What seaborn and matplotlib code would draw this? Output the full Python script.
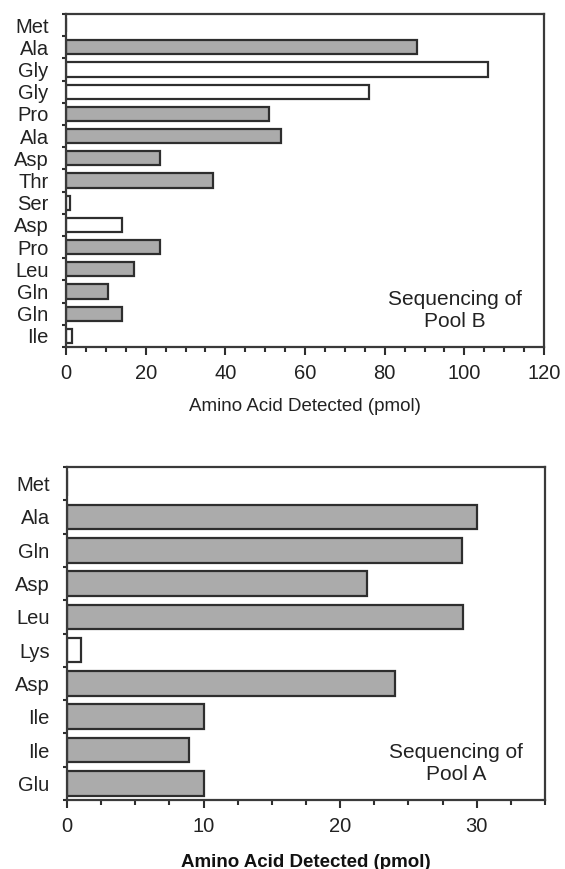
import numpy as np
import pandas as pd
import matplotlib
matplotlib.use("Agg")
import matplotlib.pyplot as plt
from matplotlib.ticker import MultipleLocator, FixedLocator
import seaborn as sns

# ---- data ----
top_residues = ['Met', 'Ala', 'Gly', 'Gly', 'Pro', 'Ala', 'Asp', 'Thr',
                'Ser', 'Asp', 'Pro', 'Leu', 'Gln', 'Gln', 'Ile']
top_pmol = [0, 88, 106, 76, 51, 54, 23.5, 37, 1, 14, 23.5, 17, 10.5, 14, 1.5]
top_fill = ['open', 'shaded', 'open', 'open', 'shaded', 'shaded', 'shaded', 'shaded',
            'open', 'open', 'shaded', 'shaded', 'shaded', 'shaded', 'open']

bottom_residues = ['Met', 'Ala', 'Gln', 'Asp', 'Leu', 'Lys', 'Asp', 'Ile', 'Ile', 'Glu']
bottom_pmol = [0, 30, 28.9, 22, 29, 1, 24, 10, 8.9, 10]
bottom_fill = ['open', 'shaded', 'shaded', 'shaded', 'shaded', 'open',
               'shaded', 'shaded', 'shaded', 'shaded']

top_xticks = [0, 20, 40, 60, 80, 100, 120]
bottom_xticks = [0, 10, 20, 30]

sns.set_theme(style='white')
plt.rcParams['font.family'] = ['Liberation Sans', 'DejaVu Sans']

TXT = '#222222'
EDGE = '#2e2e2e'
palette = {'shaded': '#ababab', 'open': '#ffffff'}

fig = plt.figure(figsize=(5.65, 8.69), dpi=100)
ax1 = fig.add_axes([66 / 565, 1 - 347 / 869, 478 / 565, 333 / 869])
ax2 = fig.add_axes([67 / 565, 1 - 800 / 869, 478 / 565, 333 / 869])


def panel(ax, residues, values, fills, width, xmax, xticks, minor, label, pool, bold, labelpad):
    n = len(residues)
    df = pd.DataFrame({'cycle': [str(i) for i in range(n)],
                       'pmol': values, 'fill': fills})
    sns.barplot(data=df, x='pmol', y='cycle', hue='fill', order=df['cycle'].tolist(),
                palette=palette, dodge=False, width=width, orient='h',
                edgecolor=EDGE, linewidth=1.6, legend=False, ax=ax, saturation=1)
    ax.set_xlim(0, xmax)
    ax.set_ylim(n - 0.5, -0.5)
    ax.set_yticks(range(n))
    ax.set_yticklabels(residues, fontsize=14.5, color=TXT)
    ax.yaxis.set_minor_locator(FixedLocator(np.arange(-0.5, n, 1.0)))
    ax.tick_params(axis='y', which='major', length=0, pad=12.5)
    ax.tick_params(axis='y', which='minor', length=3.2, width=1.5, color=EDGE, left=True)
    ax.set_xticks(xticks)
    ax.set_xticklabels([str(t) for t in xticks], fontsize=14.5, color=TXT)
    ax.xaxis.set_minor_locator(MultipleLocator(minor))
    ax.tick_params(axis='x', which='major', length=6, width=1.5, color=EDGE,
                   bottom=True, pad=6)
    ax.tick_params(axis='x', which='minor', length=3.8, width=1.5, color=EDGE, bottom=True)
    ax.set_ylabel('')
    ax.set_xlabel(label, fontsize=13.5, color='#111111' if bold else TXT,
                  fontweight='bold' if bold else 'normal', labelpad=labelpad)
    for s in ax.spines.values():
        s.set_visible(True)
        s.set_linewidth(1.6)
        s.set_color('#3a3a3a')
    ax.text(0.814, 0.11, 'Sequencing of\n' + pool, transform=ax.transAxes,
            ha='center', va='center', fontsize=15, color=TXT, linespacing=1.2)


panel(ax1, top_residues, top_pmol, top_fill, 0.64, 120, top_xticks, 5,
      'Amino Acid Detected (pmol)', 'Pool B', False, 11)
panel(ax2, bottom_residues, bottom_pmol, bottom_fill, 0.74, 35, bottom_xticks, 2.5,
      'Amino Acid Detected (pmol)', 'Pool A', True, 13)

fig.savefig('out.png', dpi=100)
